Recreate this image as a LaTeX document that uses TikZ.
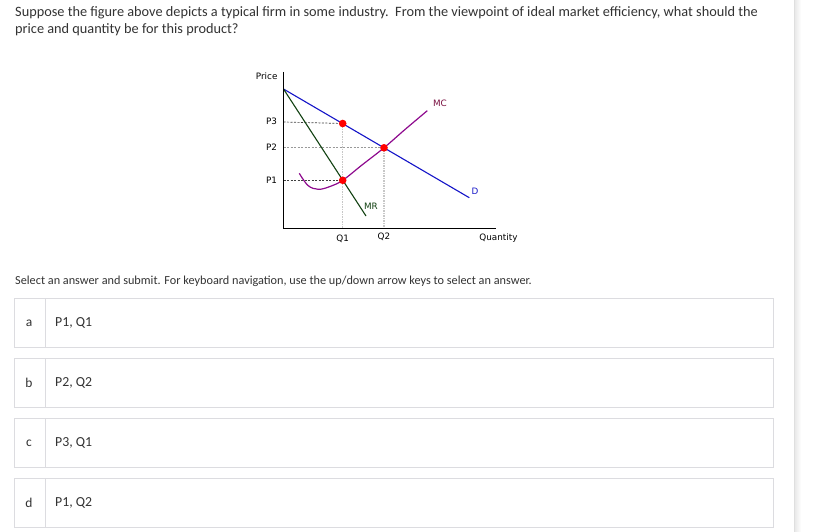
\documentclass[tikz,border=0pt]{standalone}
\usepackage{fontspec}
\setmainfont{Carlito}
\newfontfamily\chartfont{DejaVu Sans}
\usetikzlibrary{positioning}
\usetikzlibrary{calc}
\definecolor{txtgray}{HTML}{333333}
\definecolor{boxgray}{HTML}{DCDCE0}
\definecolor{demandblue}{HTML}{1414C8}
\definecolor{mrgreen}{HTML}{124212}
\definecolor{mcpurple}{HTML}{8E0A8E}
\definecolor{mclabel}{HTML}{7A1040}
\tikzset{
  optbox/.style={draw=boxgray,line width=0.9pt,minimum width=759pt,minimum height=49pt,inner sep=0pt,outer sep=0pt,anchor=north west},
  optletter/.style={text=txtgray,font=\fontsize{13.5}{16}\selectfont},
  opttext/.style={text=txtgray,font=\fontsize{13.8}{16}\selectfont,anchor=west,inner sep=0pt},
  axislabel/.style={font=\chartfont\fontsize{8.8}{10}\selectfont,inner sep=0pt},
  guide/.style={dashed,dash pattern=on 2pt off 1.5pt,line width=0.7pt},
  eqdot/.style={fill=red,draw=none},
}
\begin{document}
\begin{tikzpicture}[x=1pt,y=-1pt]
  \useasboundingbox (0,0) rectangle (829,532);
  \fill[white] (0,0) rectangle (829,532);
  % right page edge
  \shade[left color=gray!18,right color=white] (794.5,0) rectangle (801,532);
  \draw[gray!25,line width=0.8pt] (794.5,0) -- (794.5,532);

  % question
  \node[anchor=base west,inner sep=0pt,text=txtgray,font=\fontsize{14.3}{17}\selectfont] (question1) at (15,16.5)
    {Suppose the figure above depicts a typical firm in some industry.\ \ From the viewpoint of ideal market efficiency, what should the};
  \node[anchor=base west,inner sep=0pt,text=txtgray,font=\fontsize{14.3}{17}\selectfont] (question2) at (15,33.5)
    {price and quantity be for this product?};

  % chart
  \coordinate (origin) at (283.5,228.5);
  \coordinate (ytop) at (283.5,72);
  \coordinate (xend) at (496,228.5);
  \coordinate (start) at (283.5,89);
  \coordinate (dEnd) at (469.3,197.7);
  \coordinate (mrEnd) at (366,216);
  \coordinate (eqThree) at (342.7,123.5);
  \coordinate (eqTwo) at (384,147.8);
  \coordinate (eqOne) at (342.7,180.3);

  \draw[guide,black!75] (283.5,122) -- (eqThree);
  \draw[guide,black!40] (origin |- eqTwo) -- (eqTwo);
  \draw[guide,black!75] (origin |- eqOne) -- (eqOne);
  \draw[black!22,line width=1.3pt,dash pattern=on 1.5pt off 1pt] (eqThree) -- (eqThree |- origin);
  \draw[black!22,line width=1.3pt,dash pattern=on 1.5pt off 1pt] (eqTwo) -- (eqTwo |- origin);

  \draw[demandblue,line width=1.1pt] (start) -- (dEnd);
  \draw[mrgreen,line width=1.1pt] (start) -- (mrEnd);
  \draw[mcpurple,line width=1.2pt] plot[smooth,tension=0.6] coordinates
    {(299.3,173.3) (308,185.5) (318.3,189.3) (330,186.5) (342.7,180.3) (362,165) (384,147.8) (405,129.5) (427.3,110.7)};

  \draw[black,line width=1.5pt] (ytop) -- (origin) -- (xend);

  \fill[eqdot] (eqThree) circle (3.8pt);
  \fill[eqdot] (eqTwo) circle (3.8pt);
  \fill[eqdot] (eqOne) circle (3.8pt);

  \node[axislabel] (price) at (266.7,76.7) {Price};
  \node[axislabel] (pThree) at (271.5,121.5) {P3};
  \node[axislabel] (pTwo) at (271.5,147.5) {P2};
  \node[axislabel] (pOne) at (271.5,180) {P1};
  \node[axislabel] (qOne) at (342.7,238.5) {Q1};
  \node[axislabel] (qTwo) at (384,237) {Q2};
  \node[axislabel] (quantity) at (498.5,238.5) {Quantity};
  \node[axislabel,text=mclabel] (mcLabel) at (440,103.5) {MC};
  \node[axislabel,text=demandblue] (dLabel) at (475,191) {D};
  \node[axislabel,text=mrgreen] (mrLabel) at (371,206) {MR};

  % instructions
  \node[anchor=west,inner sep=0pt,text=txtgray,font=\fontsize{12.25}{14}\selectfont] (select) at (15,281.5)
    {Select an answer and submit. For keyboard navigation, use the up/down arrow keys to select an answer.};

  % answer options
  \node[optbox] (optA) at (14.5,298.5) {};
  \node[optbox] (optB) at (14.5,358.5) {};
  \node[optbox] (optC) at (14.5,418.5) {};
  \node[optbox] (optD) at (14.5,478.5) {};
  \draw[boxgray,line width=0.9pt] ([xshift=31pt]optA.north west) -- ([xshift=31pt]optA.south west);
  \draw[boxgray,line width=0.9pt] ([xshift=31pt]optB.north west) -- ([xshift=31pt]optB.south west);
  \draw[boxgray,line width=0.9pt] ([xshift=31pt]optC.north west) -- ([xshift=31pt]optC.south west);
  \draw[boxgray,line width=0.9pt] ([xshift=31pt]optD.north west) -- ([xshift=31pt]optD.south west);
  \node[optletter] (letA) at ([xshift=14.5pt]optA.west) {a};
  \node[optletter] (letB) at ([xshift=14.5pt]optB.west) {b};
  \node[optletter] (letC) at ([xshift=14.5pt]optC.west) {c};
  \node[optletter] (letD) at ([xshift=14.5pt]optD.west) {d};
  \node[opttext] (ansA) at ([xshift=40.5pt]optA.west) {P1, Q1};
  \node[opttext] (ansB) at ([xshift=40.5pt]optB.west) {P2, Q2};
  \node[opttext] (ansC) at ([xshift=40.5pt]optC.west) {P3, Q1};
  \node[opttext] (ansD) at ([xshift=40.5pt]optD.west) {P1, Q2};
\end{tikzpicture}
\end{document}
